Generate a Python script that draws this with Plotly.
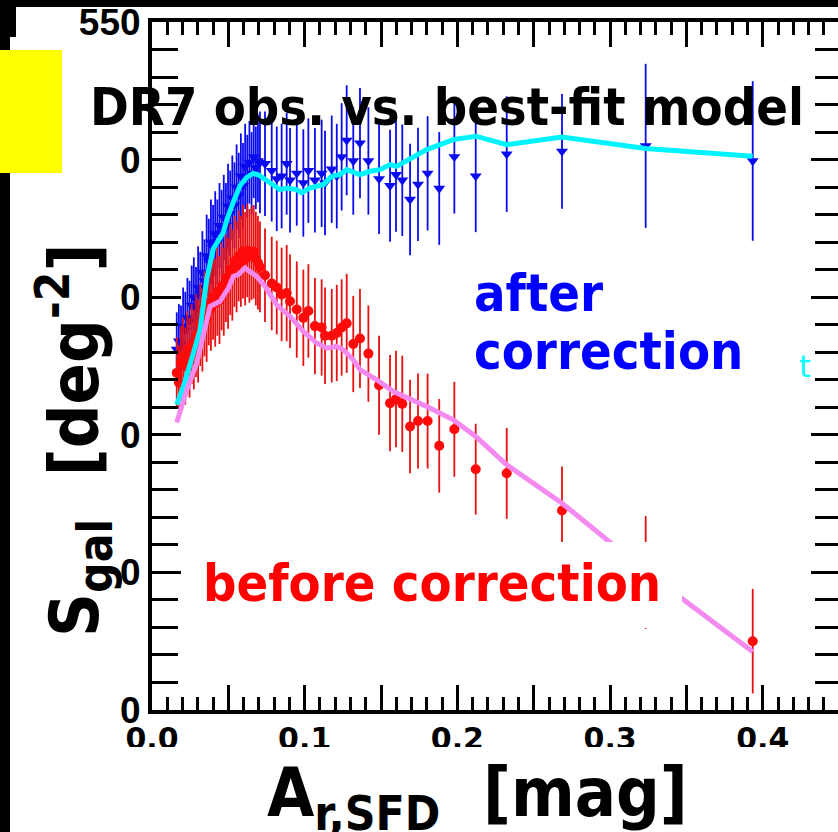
import plotly.graph_objects as go

# ---------------- data ----------------
x_dense = [0.0162, 0.0176, 0.0190, 0.0204, 0.0218, 0.0232, 0.0246, 0.0260, 0.0274, 0.0288,
           0.0302, 0.0316, 0.0330, 0.0344, 0.0358, 0.0372, 0.0386, 0.0400, 0.0414, 0.0428,
           0.0442, 0.0456, 0.0470, 0.0484, 0.0498, 0.0512, 0.0526, 0.0540, 0.0554, 0.0568,
           0.0582, 0.0596, 0.0610, 0.0624, 0.0638, 0.0652, 0.0666, 0.0680, 0.0694]
x_mid = [0.0707, 0.0740, 0.0784, 0.0817, 0.0849, 0.0882, 0.0904, 0.0948, 0.0991, 0.1024,
         0.1067, 0.1111, 0.1133, 0.1177, 0.1210, 0.1242, 0.1275, 0.1318, 0.1362, 0.1417, 0.1487]
x_sparse = [0.1559, 0.1598, 0.1639, 0.1690, 0.1742, 0.1805, 0.1881, 0.1980, 0.2120, 0.2323,
            0.2685, 0.3233, 0.3934]

after_dense = [262, 268, 266, 279, 276, 285, 283, 294, 300, 292, 307, 303, 318, 312, 330, 326,
               340, 336, 346, 340, 352, 347, 358, 352, 366, 361, 372, 367, 380, 374, 388, 381,
               395, 388, 398, 390, 402, 394, 399]
after_dense_err = [27, 27, 28, 28, 28, 29, 29, 29, 29, 30, 30, 30, 30, 30, 30, 31, 31, 31, 31, 31,
                   31, 31, 31, 31, 31, 31, 31, 31, 31, 31, 31, 31, 31, 30, 30, 30, 30, 30, 30]
after_mid = [398, 397, 392, 386, 388, 397, 385, 390, 383, 392, 385, 390, 383, 393, 388, 402,
             414, 399, 412, 399, 386]
after_mid_err = [37, 38, 37, 38, 38, 37, 38, 38, 39, 38, 38, 39, 38, 39, 38, 39, 40, 39, 40, 39, 40]
after_sparse = [381, 389, 385, 371, 382, 390, 379, 402, 388, 404, 406, 410, 399]
after_sparse_err = [40.7, 41.5, 40.5, 40.5, 41.2, 41.5, 41, 41.2, 40.7, 42, 41.7, 59.6, 58]

before_dense = [245, 238, 252, 257, 250, 262, 256, 266, 262, 272, 268, 280, 276, 288, 284, 296,
                292, 300, 296, 304, 298, 308, 304, 314, 310, 320, 316, 326, 322, 330, 326, 333,
                328, 334, 330, 332, 333, 328, 325]
before_dense_err = [26, 27, 27, 28, 28, 28, 29, 29, 29, 30, 30, 30, 30, 31, 31, 31, 31, 31, 32, 32,
                    32, 32, 32, 32, 33, 33, 33, 33, 33, 33, 33, 34, 34, 34, 34, 34, 34, 34, 34]
before_mid = [322, 316, 310, 307, 302, 303, 297, 291, 285, 290, 279, 278, 272, 272, 274, 278,
              281, 266, 270, 259, 236]
before_mid_err = [33, 34, 34, 34, 34, 35, 34, 35, 35, 34, 35, 35, 35, 34, 35, 35, 36, 35, 36, 35, 36]
before_sparse = [223, 226, 222.5, 206, 210, 210, 192, 204, 175, 172, 145, 100, 50]
before_sparse_err = [35, 35, 35, 34, 34.5, 34.5, 34, 34.5, 33, 33, 32, 41, 38]

model_after_x = [0.0162, 0.0205, 0.0270, 0.0314, 0.0358, 0.0401, 0.0467, 0.0489, 0.0532, 0.0576,
                 0.0620, 0.0663, 0.0696, 0.0740, 0.0795, 0.0838, 0.0882, 0.0947, 0.0981, 0.1035,
                 0.1122, 0.1177, 0.1231, 0.1275, 0.1362, 0.1428, 0.1493, 0.1559, 0.1602, 0.1799,
                 0.1973, 0.2120, 0.2323, 0.2685, 0.3233, 0.3934]
model_after_y = [222, 235, 259, 276, 313, 335, 347, 356, 369, 381, 387, 390, 389, 385.5, 380.6,
                 378.2, 379.4, 378.2, 375.8, 379.4, 381.8, 387.9, 389.1, 392.7, 389.1, 391.5,
                 392.7, 396.4, 395.1, 407.3, 414.5, 417, 410.9, 416.5, 408, 402.4]
model_before_x = [0.0162, 0.0228, 0.0293, 0.0347, 0.0380, 0.0445, 0.0500, 0.0532, 0.0565, 0.0609,
                  0.0642, 0.0686, 0.0740, 0.0817, 0.0904, 0.0991, 0.1078, 0.1144, 0.1210, 0.1253,
                  0.1318, 0.1362, 0.1472, 0.1581, 0.1799, 0.1973, 0.2120, 0.2323, 0.2685, 0.3233,
                  0.3934]
model_before_y = [209, 232.7, 252.1, 276.4, 293.3, 297, 306.7, 315.1, 316.4, 321.2, 318.8, 315.1,
                  307.9, 294.5, 286, 275.1, 266.7, 263, 264.2, 261.8, 254.5, 247.3, 240, 231.5,
                  220.6, 210.9, 198.8, 178.2, 150.3, 100.9, 42.4]

x_tickvals = [0.0, 0.05, 0.1, 0.15, 0.2, 0.25, 0.3, 0.35, 0.4, 0.45]
x_ticktext = ["0.0", "", "0.1", "", "0.2", "", "0.3", "", "0.4", ""]
y_tickvals = [0, 100, 200, 300, 400, 500]
y_ticktext = ["0", "0", "0", "0", "0", "550"]

# ---------------- layout geometry ----------------
W, H = 838, 832
ML, MR, MT, MB = 152, 0, 22, 122
PW, PH = W - ML - MR, H - MT - MB


def px(xp):
    return (xp - ML) / PW


def py(yp):
    return (H - MB - yp) / PH


BLUE = "#0a0af0"
RED = "#ff0a0a"
CYAN = "#00f4ff"
PINK = "#f48af0"

fig = go.Figure()
fig.add_trace(go.Scatter(
    x=x_dense + x_mid + x_sparse, y=after_dense + after_mid + after_sparse,
    mode="markers", marker=dict(symbol="triangle-down", size=10.5, color=BLUE),
    error_y=dict(type="data", array=after_dense_err + after_mid_err + after_sparse_err,
                 color=BLUE, thickness=1.8, width=0),
    showlegend=False, hoverinfo="skip"))
fig.add_trace(go.Scatter(
    x=x_dense + x_mid + x_sparse, y=before_dense + before_mid + before_sparse,
    mode="markers", marker=dict(symbol="circle", size=10, color=RED),
    error_y=dict(type="data", array=before_dense_err + before_mid_err + before_sparse_err,
                 color="#e81010", thickness=1.8, width=0),
    showlegend=False, hoverinfo="skip"))
fig.add_trace(go.Scatter(x=model_after_x, y=model_after_y, mode="lines",
                         line=dict(color=CYAN, width=5), showlegend=False, hoverinfo="skip"))
fig.add_trace(go.Scatter(x=model_before_x, y=model_before_y, mode="lines",
                         line=dict(color=PINK, width=5), showlegend=False, hoverinfo="skip"))
fig.add_trace(go.Scatter(x=[], y=[], yaxis="y2", showlegend=False, hoverinfo="skip"))

ytickfont = dict(family="Liberation Sans", size=37, color="black", weight="bold")
xtickfont = dict(family="DejaVu Sans", size=30, color="black", weight="bold")
fig.update_layout(
    width=W, height=H, margin=dict(l=ML, r=MR, t=MT, b=MB, pad=0),
    paper_bgcolor="white", plot_bgcolor="white", showlegend=False,
    xaxis=dict(range=[0, PW / 1527.0], showgrid=False, zeroline=False,
               showline=True, linewidth=4, linecolor="black", mirror="ticks",
               ticks="inside", ticklen=25, tickwidth=3, tickcolor="black",
               tickvals=x_tickvals, ticktext=x_ticktext, tickfont=xtickfont,
               ticklabelstandoff=-1,
               minor=dict(dtick=0.01, tick0=0, ticks="inside", ticklen=13, tickwidth=3,
                          tickcolor="black", showgrid=False)),
    yaxis=dict(range=[0, 500], showgrid=False, zeroline=False,
               showline=True, linewidth=4, linecolor="black", mirror=False,
               ticks="inside", ticklen=29, tickwidth=3, tickcolor="black",
               tickvals=y_tickvals, ticktext=y_ticktext, tickfont=ytickfont,
               minor=dict(dtick=20, tick0=0, ticks="inside", ticklen=26, tickwidth=3,
                          tickcolor="black", showgrid=False)),
    yaxis2=dict(range=[0, 500], overlaying="y", side="right", anchor="x",
                showgrid=False, zeroline=False, showline=False, showticklabels=False,
                ticks="inside", ticklen=27, tickwidth=3, tickcolor="black",
                tickvals=y_tickvals,
                minor=dict(dtick=20, tick0=0, ticks="inside", ticklen=23, tickwidth=3,
                           tickcolor="black", showgrid=False)),
)

shapes = []


def rect(x0, y0, x1, y1, color):
    shapes.append(dict(type="rect", xref="paper", yref="paper", layer="above",
                       x0=px(x0), x1=px(x1), y0=py(y1), y1=py(y0),
                       fillcolor=color, line=dict(width=0)))


rect(10, 747, 838, 832, "white")
rect(182, 542, 682, 628, "white")
rect(0, 0, 838, 7, "black")
rect(0, 0, 10, 832, "black")
rect(0, 0, 16, 37, "black")
rect(0, 50, 62, 173, "#ffff00")
fig.update_layout(shapes=shapes)

TF = "DejaVu Sans Condensed, DejaVu Sans"
ann = []
ann.append(dict(text="DR7 obs. vs. best-fit model", x=px(447), y=py(107),
                font=dict(family=TF, size=52, color="black", weight="bold")))
ann.append(dict(text="after", x=px(472), y=py(293), xanchor="left",
                font=dict(family=TF, size=52, color="#0000ff", weight="bold")))
ann.append(dict(text="correction", x=px(472), y=py(351), xanchor="left",
                font=dict(family=TF, size=52, color="#0000ff", weight="bold")))
ann.append(dict(text="before correction", x=px(432), y=py(583),
                font=dict(family=TF, size=52, color="#ff0000", weight="bold")))
ann.append(dict(text="A<sub>r,SFD</sub>\u00a0\u00a0[mag]", x=px(477), y=py(797),
                font=dict(family=TF, size=68, color="black", weight="bold")))
ann.append(dict(text="S<sub>gal</sub>\u00a0\u00a0[deg<sup>-2</sup>]", x=px(74), y=py(441),
                textangle=-90,
                font=dict(family=TF, size=68, color="black", weight="bold")))
ann.append(dict(text="t", x=px(805), y=py(366),
                font=dict(family="DejaVu Sans", size=30, color="#00ffff")))
for a in ann:
    a.setdefault("xanchor", "center")
    a.setdefault("yanchor", "middle")
    a.update(xref="paper", yref="paper", showarrow=False)
fig.update_layout(annotations=ann)

fig.write_html("out.html", config={"displayModeBar": False},
               post_script="document.body.style.margin='0px';")
